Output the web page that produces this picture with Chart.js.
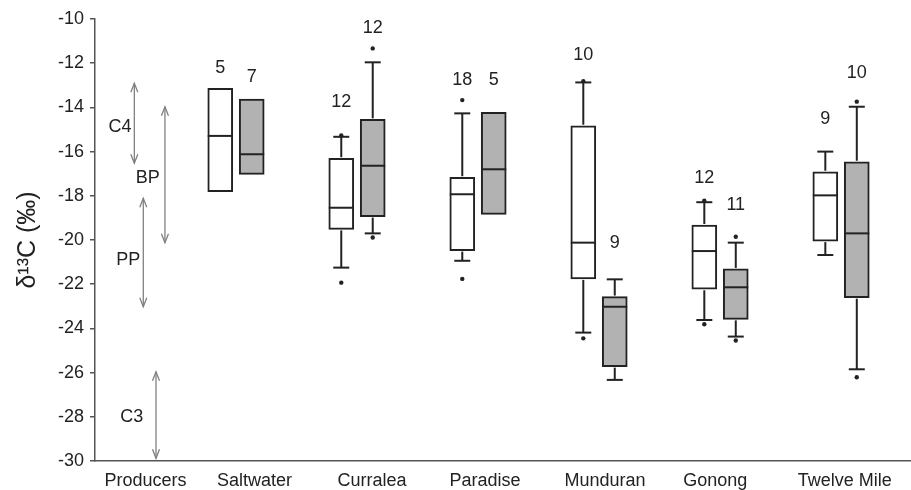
<!DOCTYPE html>
<html>
<head>
<meta charset="utf-8">
<script src="https://cdn.jsdelivr.net/npm/chart.js@4/dist/chart.umd.min.js"></script>
<style>
html,body{margin:0;padding:0;background:#fff;}
canvas{display:block;}
</style>
</head>
<body>
<canvas id="c" width="911" height="490"></canvas>
<script>
// ---- data ----
const sites = ['Saltwater', 'Curralea', 'Paradise', 'Munduran', 'Gonong', 'Twelve Mile'];
const axisLabels = ['Producers', 'Saltwater', 'Curralea', 'Paradise', 'Munduran', 'Gonong', 'Twelve Mile'];
const yTicks = [-30, -28, -26, -24, -22, -20, -18, -16, -14, -12, -10];

// first (white) boxes
const whiteQ3   = [-13.14, -16.30, -17.16, -14.83, -19.32, -16.91];
const whiteMed  = [-15.29, -18.54, -17.93, -20.12, -20.50, -17.98];
const whiteQ1   = [-17.81, -19.52, -20.48, -21.76, -22.23, -20.05];
const whiteHi   = [null,   -15.33, -14.27, -12.87, -18.29, -16.00];
const whiteLo   = [null,   -21.25, -20.94, -24.19, -23.62, -20.68];
const whiteOut  = [[], [-15.27, -21.93], [-13.67, -21.76], [-12.82, -24.45], [-18.22, -23.81], []];
const whiteN    = [5, 12, 18, 10, 12, 9];

// second (grey) boxes
const greyQ3    = [-13.62, -14.54, -14.22, -22.56, -21.31, -16.46];
const greyMed   = [-16.12, -16.64, -16.80, -23.02, -22.14, -19.70];
const greyQ1    = [-17.03, -18.94, -18.84, -25.73, -23.59, -22.61];
const greyHi    = [null,   -11.96, null,   -21.78, -20.12, -13.97];
const greyLo    = [null,   -19.70, null,   -26.33, -24.37, -25.85];
const greyOut   = [[], [-11.33, -19.89], [], [], [-19.85, -24.55], [-13.74, -26.21]];
const greyN     = [7, 12, 5, 9, 11, 10];

// producer ranges
const producerNames = ['C4', 'BP', 'PP', 'C3'];
const producerHigh  = [-12.91, -13.97, -18.11, -25.96];
const producerLow   = [-16.53, -20.12, -23.02, -29.88];

// ---- layout (positions in axis units, kept apart from data) ----
const layoutCfg = {
  boxOffset: 0.13,
  labelX: [0.252, 1.153, 2.124, 3.058, 4.05, 4.96, 6.03],
  arrowX: [0.16, 0.413, 0.234, 0.339],
  arrowLabelX: [0.041, 0.27, 0.11, 0.138],
  arrowLabelY: [-14.9, -17.2, -20.9, -28.0],
  whiteNY: [-12.22, -13.74, -12.76, -11.63, -17.19, -14.52],
  greyNY:  [-12.62, -10.42, -12.76, -20.15, -18.42, -12.44]
};

const FONT = "'Liberation Sans', Arial, sans-serif";
const INK = '#222';

function boxData(q1, q3, off) {
  return sites.map((s, i) => ({ x: i + 1 + off, y: [q1[i], q3[i]] }));
}

const boxPlugin = {
  id: 'boxExtras',
  afterDatasetsDraw(chart) {
    const ctx = chart.ctx;
    const xs = chart.scales.x, ys = chart.scales.y;
    const series = [
      { off: -layoutCfg.boxOffset, med: whiteMed, q1: whiteQ1, q3: whiteQ3, hi: whiteHi, lo: whiteLo, out: whiteOut, n: whiteN, ny: layoutCfg.whiteNY },
      { off:  layoutCfg.boxOffset, med: greyMed,  q1: greyQ1,  q3: greyQ3,  hi: greyHi,  lo: greyLo,  out: greyOut,  n: greyN,  ny: layoutCfg.greyNY }
    ];
    ctx.save();
    series.forEach((s, si) => {
      const meta = chart.getDatasetMeta(si);
      sites.forEach((site, i) => {
        const bar = meta.data[i];
        const cx = xs.getPixelForValue(i + 1 + s.off);
        const half = bar.width / 2;
        ctx.strokeStyle = INK;
        ctx.lineWidth = 2;
        // median
        const my = ys.getPixelForValue(s.med[i]);
        ctx.beginPath(); ctx.moveTo(cx - half, my); ctx.lineTo(cx + half, my); ctx.stroke();
        // whiskers
        const capW = 8;
        if (s.hi[i] !== null) {
          const y0 = ys.getPixelForValue(s.q3[i]), y1 = ys.getPixelForValue(s.hi[i]);
          ctx.beginPath(); ctx.moveTo(cx, y0 - 1); ctx.lineTo(cx, y1); ctx.stroke();
          ctx.beginPath(); ctx.moveTo(cx - capW, y1); ctx.lineTo(cx + capW, y1); ctx.stroke();
        }
        if (s.lo[i] !== null) {
          const y0 = ys.getPixelForValue(s.q1[i]), y1 = ys.getPixelForValue(s.lo[i]);
          ctx.beginPath(); ctx.moveTo(cx, y0 + 1); ctx.lineTo(cx, y1); ctx.stroke();
          ctx.beginPath(); ctx.moveTo(cx - capW, y1); ctx.lineTo(cx + capW, y1); ctx.stroke();
        }
        // outliers
        ctx.fillStyle = INK;
        s.out[i].forEach(v => {
          ctx.beginPath(); ctx.arc(cx, ys.getPixelForValue(v), 2.2, 0, Math.PI * 2); ctx.fill();
        });
        // n labels
        ctx.font = '18px ' + FONT;
        ctx.textAlign = 'center';
        ctx.textBaseline = 'middle';
        ctx.fillText(String(s.n[i]), cx, ys.getPixelForValue(s.ny[i]));
      });
    });
    // producer arrows
    ctx.strokeStyle = '#808080';
    ctx.lineWidth = 1.3;
    producerNames.forEach((name, i) => {
      const x = xs.getPixelForValue(layoutCfg.arrowX[i]);
      const yt = ys.getPixelForValue(producerHigh[i]);
      const yb = ys.getPixelForValue(producerLow[i]);
      ctx.beginPath(); ctx.moveTo(x, yt); ctx.lineTo(x, yb); ctx.stroke();
      ctx.beginPath();
      ctx.moveTo(x - 3.5, yt + 9); ctx.lineTo(x, yt); ctx.lineTo(x + 3.5, yt + 9);
      ctx.moveTo(x - 3.5, yb - 9); ctx.lineTo(x, yb); ctx.lineTo(x + 3.5, yb - 9);
      ctx.stroke();
      ctx.fillStyle = INK;
      ctx.font = '18px ' + FONT;
      ctx.textAlign = 'center';
      ctx.textBaseline = 'middle';
      ctx.fillText(name, xs.getPixelForValue(layoutCfg.arrowLabelX[i]), ys.getPixelForValue(layoutCfg.arrowLabelY[i]));
    });
    ctx.restore();
  }
};

new Chart(document.getElementById('c'), {
  type: 'bar',
  data: {
    datasets: [
      { label: 'white', data: boxData(whiteQ1, whiteQ3, -layoutCfg.boxOffset), backgroundColor: '#ffffff', borderColor: INK, borderWidth: 2, borderSkipped: false, barThickness: 25, grouped: false },
      { label: 'grey',  data: boxData(greyQ1, greyQ3, layoutCfg.boxOffset),   backgroundColor: '#b2b2b2', borderColor: INK, borderWidth: 2, borderSkipped: false, barThickness: 25, grouped: false }
    ]
  },
  options: {
    responsive: false,
    animation: false,
    layout: { padding: { top: 19, right: 0, bottom: 0, left: 0 } },
    plugins: { legend: { display: false }, tooltip: { enabled: false } },
    scales: {
      x: {
        type: 'linear',
        offset: false,
        min: -0.165,
        max: 6.578,
        afterBuildTicks(scale) { scale.ticks = layoutCfg.labelX.map(v => ({ value: v })); },
        afterFit(scale) { scale.height = 29; scale.paddingLeft = 0; scale.paddingRight = 0; },
        ticks: {
          autoSkip: false, maxRotation: 0, minRotation: 0, padding: 9,
          color: INK, font: { family: FONT, size: 18 },
          callback: (v, idx) => axisLabels[idx]
        },
        grid: { display: false, drawTicks: false, offset: false },
        border: { display: true, color: '#555', width: 1.5 }
      },
      y: {
        type: 'linear',
        min: -30,
        max: -10,
        afterBuildTicks(scale) { scale.ticks = yTicks.map(v => ({ value: v })); },
        afterFit(scale) { scale.width = 95; scale.paddingTop = 0; scale.paddingBottom = 0; },
        ticks: { color: INK, font: { family: FONT, size: 18 }, padding: 6 },
        grid: { drawOnChartArea: false, drawTicks: true, tickLength: 5, color: '#555', lineWidth: 1.5 },
        border: { display: true, color: '#555', width: 1.5 },
        title: { display: true, text: 'δ¹³C (‰)', color: INK, font: { family: FONT, size: 25 }, padding: { top: 13, bottom: 0 } }
      }
    }
  },
  plugins: [boxPlugin]
});
</script>
</body>
</html>
